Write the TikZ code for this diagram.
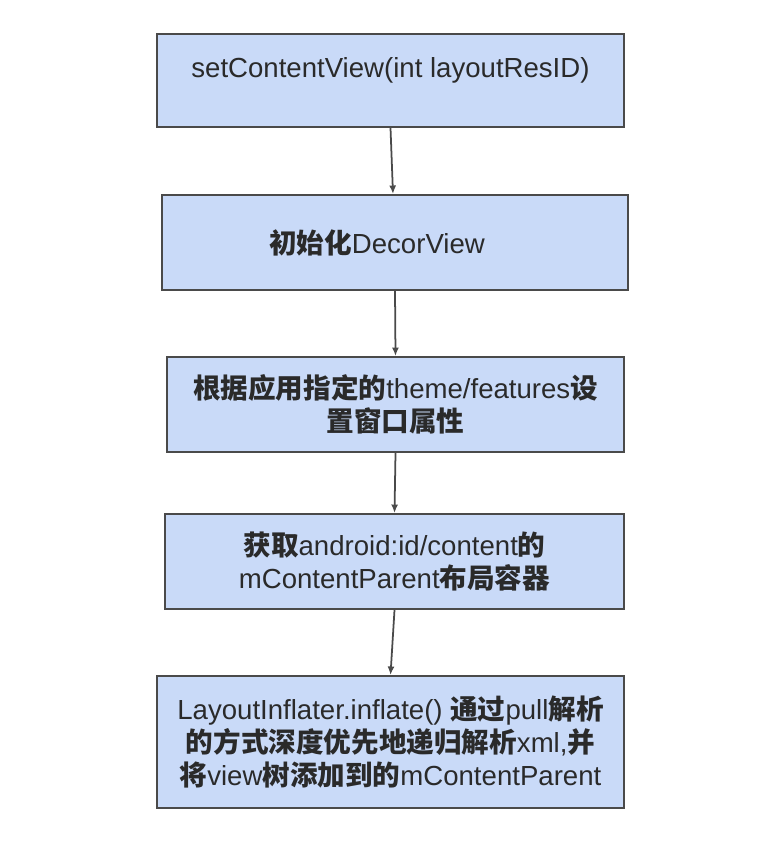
\documentclass[tikz,border=0pt]{standalone}
\usepackage{fontspec}
\setmainfont{Liberation Sans}
\newfontfamily\cjk{Noto Sans CJK SC}
\usetikzlibrary{arrows.meta}
\definecolor{boxfill}{HTML}{C9DAF8}
\definecolor{boxline}{HTML}{4A4A4A}
\definecolor{textgray}{HTML}{2A2A2A}
\newcommand{\zh}[1]{{\cjk\bfseries #1}}
\begin{document}
\begin{tikzpicture}[>={Latex[length=1.7mm,width=1.4mm]},
  stepbox/.style={draw=boxline, line width=1.1pt, fill=boxfill, align=center,
    text=textgray, font=\fontsize{15.7}{18.7}\selectfont, minimum height=1.9cm}]
\useasboundingbox (0,0) rectangle (15.12,-17.12);
% Caixas
\node[stepbox, minimum width=9.34cm, minimum height=1.86cm, inner ysep=0pt,
  text height=0.88cm, text depth=0.98cm] (setview) at (7.81,-1.61) {setContentView(int layoutResID)};
\node[stepbox, minimum width=9.32cm] (decor) at (7.90,-4.85) {\zh{初始化}DecorView\hspace*{0.72cm}};
\node[stepbox, minimum width=9.14cm] (theme) at (7.91,-8.09)
  {\zh{根据应用指定的}theme/features\zh{设}\\\zh{置窗口属性}};
\node[stepbox, minimum width=9.18cm] (parent) at (7.89,-11.23)
  {\zh{获取}android:id/content\zh{的}\\mContentParent\zh{布局容器}};
\node[stepbox, minimum width=9.34cm, minimum height=2.64cm] (inflate) at (7.81,-14.84)
  {LayoutInflater.inflate() \zh{通过}pull\zh{解析}\\\zh{的方式深度优先地递归解析}xml,\zh{并}\\\zh{将}view\zh{树添加到的}mContentParent};

% Conexões
\draw[->, line width=1pt, boxline] (setview.south) -- ([xshift=-0.04cm]decor.north);
\draw[->, line width=1pt, boxline] (decor.south) -- (theme.north);
\draw[->, line width=1pt, boxline] (theme.south) -- (parent.north);
\draw[->, line width=1pt, boxline] (parent.south) -- (inflate.north);
\end{tikzpicture}
\end{document}
